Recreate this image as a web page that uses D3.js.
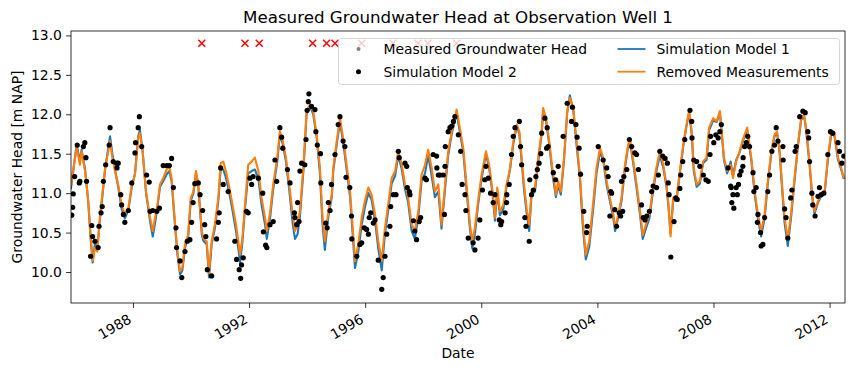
<!DOCTYPE html>
<html>
<head>
<meta charset="utf-8">
<script src="https://cdn.jsdelivr.net/npm/d3@7"></script>
<style>
  html, body { margin: 0; padding: 0; background: #fff; }
  svg { display: block; font-family: "DejaVu Sans", sans-serif; }
</style>
</head>
<body>
<div id="chart"></div>
<script>
// decimal years
const simYears = [
  1985.86, 1986.06, 1986.17, 1986.23, 1986.35, 1986.46, 1986.54, 1986.61, 1986.69, 1986.77, 1986.86, 1986.98,
  1987.04, 1987.15, 1987.21, 1987.29, 1987.38, 1987.49, 1987.61, 1987.72, 1987.84, 1987.96,
  1988.07, 1988.18, 1988.24, 1988.33, 1988.45, 1988.59, 1988.68, 1988.76, 1988.84, 1988.93,
  1989.04, 1989.16, 1989.25, 1989.33, 1989.45, 1989.53, 1989.62, 1989.70, 1989.79, 1989.90, 1989.99,
  1990.08, 1990.17, 1990.25, 1990.37, 1990.42, 1990.54, 1990.62, 1990.71, 1990.82, 1990.94,
  1991.02, 1991.11, 1991.20, 1991.32, 1991.43, 1991.55, 1991.63, 1991.69, 1991.77, 1991.86, 1991.97,
  1992.09, 1992.20, 1992.32, 1992.43, 1992.55, 1992.61, 1992.72, 1992.83, 1992.97,
  1993.06, 1993.16, 1993.27, 1993.38, 1993.50, 1993.58, 1993.67, 1993.75, 1993.87, 1993.98,
  1994.10, 1994.21, 1994.33, 1994.44, 1994.53, 1994.61, 1994.73, 1994.85, 1994.90,
  1995.02, 1995.13, 1995.24, 1995.36, 1995.48, 1995.57, 1995.65, 1995.76, 1995.88, 1995.99,
  1996.11, 1996.22, 1996.34, 1996.45, 1996.57, 1996.68, 1996.79, 1996.91,
  1997.03, 1997.14, 1997.26, 1997.37, 1997.48, 1997.60, 1997.71, 1997.83, 1997.94,
  1998.06, 1998.17, 1998.29, 1998.40, 1998.52, 1998.63, 1998.75, 1998.86, 1998.98,
  1999.09, 1999.15, 1999.26, 1999.38, 1999.49, 1999.61, 1999.69, 1999.78, 1999.89,
  2000.01, 2000.16, 2000.27, 2000.39, 2000.47, 2000.55, 2000.64, 2000.76, 2000.87, 2000.99,
  2001.10, 2001.22, 2001.31, 2001.39, 2001.47, 2001.56, 2001.65, 2001.73, 2001.85, 2001.96,
  2002.08, 2002.13, 2002.23, 2002.34, 2002.46, 2002.57, 2002.65, 2002.74, 2002.85, 2002.96,
  2003.05, 2003.17, 2003.28, 2003.40, 2003.49, 2003.60, 2003.72, 2003.86, 2003.97,
  2004.09, 2004.20, 2004.32, 2004.43, 2004.55, 2004.61, 2004.72, 2004.83, 2004.95,
  2005.06, 2005.12, 2005.24, 2005.35, 2005.47, 2005.56, 2005.67, 2005.79, 2005.90,
  2006.01, 2006.15, 2006.27, 2006.38, 2006.45, 2006.52, 2006.61, 2006.73, 2006.84, 2006.96,
  2007.07, 2007.16, 2007.25, 2007.32, 2007.42, 2007.53, 2007.64, 2007.76, 2007.85, 2007.99,
  2008.11, 2008.22, 2008.27, 2008.36, 2008.47, 2008.59, 2008.67, 2008.78, 2008.90,
  2009.01, 2009.16, 2009.30, 2009.42, 2009.53, 2009.64, 2009.76, 2009.87, 2009.99,
  2010.10, 2010.19, 2010.28, 2010.37, 2010.45, 2010.56, 2010.68, 2010.79, 2010.91,
  2011.02, 2011.12, 2011.19, 2011.31, 2011.40, 2011.48, 2011.60, 2011.71, 2011.83, 2011.94,
  2012.06, 2012.17, 2012.29, 2012.40, 2012.49
];

// "Removed Measurements" (orange)
const removedVals = [
  11.10, 11.58, 11.36, 11.53, 11.28, 10.90, 10.47, 10.14, 10.31, 10.26, 10.69, 11.11,
  11.32, 11.53, 11.66, 11.45, 11.28, 11.11, 10.85, 10.73, 10.81, 11.11,
  11.23, 11.70, 11.76, 11.53, 11.02, 10.69, 10.52, 10.69, 10.85, 11.11,
  11.19, 11.30, 11.34, 11.19, 10.60, 10.26, 10.01, 10.05, 10.35, 10.47, 10.94,
  11.02, 11.28, 11.11, 10.52, 10.43, 10.39, 9.99, 10.39, 10.60, 10.94,
  11.38, 11.40, 11.28, 11.07, 10.85, 10.60, 10.39, 10.22, 10.43, 10.85, 11.36,
  11.40, 11.45, 11.28, 10.94, 10.69, 10.52, 10.75, 11.11, 11.45,
  11.78, 11.66, 11.45, 11.11, 10.73, 10.52, 10.60, 10.77, 11.32, 12.04,
  12.12, 12.04, 11.74, 11.32, 10.69, 10.39, 10.77, 10.98, 11.32,
  11.66, 11.95, 11.70, 11.36, 11.02, 10.56, 10.14, 10.35, 10.69, 10.90,
  11.07, 10.98, 10.73, 10.39, 10.14, 10.56, 10.85, 11.19,
  11.28, 11.53, 11.36, 11.11, 10.94, 10.60, 10.52, 10.77, 11.23,
  11.36, 11.55, 11.32, 11.02, 11.11, 10.60, 11.11, 11.53, 11.78,
  11.95, 12.06, 11.83, 11.57, 11.11, 10.60, 10.39, 10.56, 10.90,
  11.23, 11.53, 11.36, 11.02, 10.69, 11.07, 10.77, 10.85, 11.11, 11.32,
  11.66, 11.87, 11.78, 11.45, 11.11, 10.81, 10.60, 11.02, 11.07, 11.45,
  11.78, 12.08, 11.95, 11.66, 11.28, 10.98, 11.15, 11.02, 11.45, 12.04,
  12.21, 12.08, 11.66, 11.23, 10.69, 10.22, 10.39, 10.90, 11.32,
  11.57, 11.45, 11.15, 10.94, 10.73, 10.56, 10.73, 10.94, 11.36,
  11.62, 11.68, 11.40, 11.11, 10.77, 10.47, 10.60, 10.73, 11.02,
  11.28, 11.53, 11.36, 11.11, 10.85, 10.45, 10.94, 10.94, 11.28, 11.62,
  11.87, 12.04, 11.78, 11.32, 11.11, 11.15, 11.40, 11.45, 11.83, 11.95,
  11.91, 12.04, 11.83, 11.45, 11.28, 11.36, 11.19, 11.40, 11.53,
  11.68, 11.83, 11.45, 11.02, 10.73, 10.52, 10.73, 11.15, 11.53,
  11.74, 11.78, 11.53, 11.07, 10.69, 10.41, 10.77, 11.19, 11.62,
  11.95, 11.99, 11.83, 11.40, 10.98, 10.77, 10.90, 10.98, 11.02, 11.45,
  11.78, 11.74, 11.45, 11.32, 11.19
];

// "Simulation Model 1" (blue)
const model1Vals = [
  11.05, 11.62, 11.40, 11.55, 11.30, 10.88, 10.42, 10.12, 10.36, 10.30, 10.66, 11.08,
  11.30, 11.58, 11.72, 11.50, 11.30, 11.08, 10.80, 10.68, 10.78, 11.08,
  11.25, 11.72, 11.80, 11.55, 11.00, 10.64, 10.45, 10.62, 10.82, 11.08,
  11.15, 11.24, 11.28, 11.15, 10.58, 10.22, 9.97, 10.02, 10.30, 10.45, 10.90,
  11.00, 11.25, 11.08, 10.48, 10.40, 10.35, 9.93, 10.35, 10.55, 10.90,
  11.30, 11.30, 11.20, 11.00, 10.78, 10.52, 10.30, 10.12, 10.38, 10.80, 11.25,
  11.28, 11.30, 11.18, 10.85, 10.60, 10.42, 10.68, 11.05, 11.40,
  11.75, 11.62, 11.40, 11.05, 10.62, 10.42, 10.48, 10.70, 11.28, 12.00,
  12.10, 12.00, 11.70, 11.25, 10.60, 10.28, 10.70, 10.95, 11.28,
  11.62, 11.90, 11.65, 11.30, 10.95, 10.48, 10.05, 10.25, 10.60, 10.82,
  11.00, 10.92, 10.65, 10.30, 10.02, 10.48, 10.78, 11.12,
  11.22, 11.48, 11.30, 11.05, 10.88, 10.52, 10.42, 10.70, 11.15,
  11.25, 11.48, 11.22, 10.95, 11.02, 10.55, 11.05, 11.48, 11.75,
  11.92, 12.02, 11.78, 11.52, 11.05, 10.55, 10.30, 10.48, 10.85,
  11.18, 11.50, 11.32, 10.98, 10.65, 11.02, 10.72, 10.80, 11.08, 11.30,
  11.62, 11.85, 11.75, 11.40, 11.05, 10.75, 10.52, 10.98, 11.02, 11.40,
  11.75, 12.05, 11.92, 11.62, 11.22, 10.95, 11.10, 10.98, 11.42, 12.02,
  12.24, 12.05, 11.62, 11.18, 10.62, 10.16, 10.32, 10.82, 11.25,
  11.52, 11.42, 11.10, 10.90, 10.68, 10.52, 10.70, 10.90, 11.32,
  11.60, 11.66, 11.36, 11.06, 10.72, 10.42, 10.55, 10.68, 10.98,
  11.24, 11.48, 11.32, 11.08, 10.82, 10.50, 10.90, 10.92, 11.25, 11.60,
  11.85, 12.02, 11.75, 11.28, 11.08, 11.12, 11.38, 11.42, 11.80, 11.92,
  11.90, 12.02, 11.82, 11.42, 11.25, 11.40, 11.22, 11.42, 11.52,
  11.66, 11.80, 11.42, 10.98, 10.68, 10.45, 10.68, 11.12, 11.50,
  11.72, 11.76, 11.50, 11.02, 10.62, 10.33, 10.72, 11.15, 11.60,
  11.93, 11.98, 11.80, 11.36, 10.95, 10.74, 10.88, 10.96, 11.00, 11.42,
  11.76, 11.72, 11.42, 11.30, 11.18
];

// "Simulation Model 2" (black dots)
const model2Years = [
  1985.92, 1985.89, 1985.94, 1985.99, 1986.08, 1986.15, 1986.17, 1986.29, 1986.34, 1986.38, 1986.40,
  1986.58, 1986.61, 1986.54, 1986.69, 1986.80, 1986.83, 1986.90, 1986.94, 1986.98,
  1987.06, 1987.21, 1987.18, 1987.32, 1987.44, 1987.49, 1987.45, 1987.58, 1987.61, 1987.67, 1987.72, 1987.84, 1987.96,
  1988.07, 1988.09, 1988.18, 1988.22, 1988.30, 1988.47, 1988.56, 1988.59, 1988.68, 1988.82, 1988.91,
  1989.04, 1989.16, 1989.25, 1989.33, 1989.39, 1989.48, 1989.50, 1989.62, 1989.68, 1989.79, 1989.87, 1989.96,
  1990.02, 1990.07, 1990.13, 1990.25, 1990.31, 1990.40, 1990.47, 1990.51, 1990.56, 1990.71, 1990.88, 1990.94, 1990.97,
  1991.02, 1991.11, 1991.28, 1991.51, 1991.57, 1991.66, 1991.71, 1991.80, 1991.74, 1991.91, 1991.97,
  1992.03, 1992.09, 1992.14, 1992.32, 1992.47, 1992.49, 1992.57, 1992.61, 1992.72, 1992.83, 1992.89, 1992.95,
  1993.06, 1993.12, 1993.16, 1993.32, 1993.41, 1993.56, 1993.58, 1993.64, 1993.72, 1993.67, 1993.75, 1993.81, 1993.92, 1993.96,
  1994.00, 1994.06, 1994.04, 1994.15, 1994.27, 1994.30, 1994.35, 1994.46, 1994.47, 1994.64, 1994.69, 1994.73, 1994.79, 1994.84, 1994.96,
  1995.07, 1995.13, 1995.24, 1995.30, 1995.34, 1995.47, 1995.53, 1995.54, 1995.71, 1995.82, 1995.88, 1995.97,
  1996.05, 1996.11, 1996.14, 1996.19, 1996.28, 1996.34, 1996.45, 1996.62, 1996.57, 1996.68, 1996.74, 1996.85, 1996.88, 1996.97,
  1997.06, 1997.14, 1997.17, 1997.37, 1997.43, 1997.45, 1997.52, 1997.54, 1997.66, 1997.71, 1997.77, 1997.86, 1997.91,
  1998.06, 1998.11, 1998.34, 1998.46, 1998.47, 1998.52, 1998.58, 1998.69, 1998.73, 1998.75, 1998.76, 1998.86, 1998.92, 1998.98,
  1999.04, 1999.09, 1999.21, 1999.29, 1999.34, 1999.44, 1999.47, 1999.55, 1999.72, 1999.78, 1999.89, 1999.95,
  2000.04, 2000.12, 2000.16, 2000.24, 2000.32, 2000.41, 2000.47, 2000.62, 2000.67, 2000.70, 2000.82, 2000.87, 2000.88, 2000.96,
  2001.04, 2001.10, 2001.16, 2001.31, 2001.35, 2001.39, 2001.50, 2001.54, 2001.65, 2001.67, 2001.73, 2001.79, 2001.88, 2001.93, 2001.99,
  2002.05, 2002.08, 2002.19, 2002.27, 2002.25, 2002.30, 2002.48, 2002.56, 2002.65, 2002.82, 2002.96,
  2003.11, 2003.14, 2003.26, 2003.30, 2003.37, 2003.42, 2003.53, 2003.65, 2003.63,
  2004.03, 2004.20, 2004.32, 2004.37, 2004.46, 2004.49, 2004.43, 2004.60, 2004.66, 2004.75, 2004.80, 2004.87, 2004.83, 2004.91,
  2005.01, 2005.10, 2005.18, 2005.29, 2005.35, 2005.41, 2005.52, 2005.58, 2005.64, 2005.70, 2005.79, 2005.87, 2005.92,
  2006.04, 2006.10, 2006.15, 2006.25, 2006.33, 2006.41, 2006.44, 2006.47, 2006.53, 2006.64, 2006.70, 2006.75, 2006.84, 2006.87, 2006.94,
  2007.01, 2007.19, 2007.25, 2007.26, 2007.32, 2007.42, 2007.53, 2007.65, 2007.74, 2007.82, 2007.88, 2007.90,
  2008.01, 2008.08, 2008.16, 2008.22, 2008.27, 2008.50, 2008.59, 2008.61, 2008.63, 2008.67, 2008.70, 2008.78, 2008.82, 2008.86, 2008.90, 2008.95,
  2009.01, 2009.02, 2009.07, 2009.13, 2009.18, 2009.24, 2009.36, 2009.39, 2009.47, 2009.51, 2009.53, 2009.62, 2009.64, 2009.70, 2009.76, 2009.87, 2009.93,
  2010.01, 2010.10, 2010.16, 2010.22, 2010.39, 2010.40, 2010.45, 2010.50, 2010.56, 2010.66, 2010.70, 2010.81, 2010.85, 2010.97,
  2011.08, 2011.16, 2011.25, 2011.28, 2011.31, 2011.39, 2011.42, 2011.50, 2011.60, 2011.65, 2011.71, 2011.80, 2011.94,
  2012.03, 2012.11, 2012.29, 2012.34, 2012.42, 2012.49
];
const model2Vals = [
  10.82, 10.72, 10.99, 11.21, 11.61, 11.13, 11.15, 11.59, 11.64, 11.45, 11.15,
  10.59, 10.45, 10.20, 10.39, 10.31, 10.58, 10.75, 10.83, 11.15,
  11.36, 11.83, 11.61, 11.40, 11.38, 11.38, 11.32, 10.98, 10.85, 10.73, 10.63, 10.78, 11.13,
  11.51, 11.64, 11.83, 11.97, 11.59, 11.23, 11.14, 10.77, 10.78, 10.77, 10.81,
  11.35, 11.35, 11.35, 11.44, 11.07, 10.56, 10.31, 10.14, 9.93, 10.26, 10.39, 10.41,
  10.63, 10.88, 11.12, 11.13, 10.98, 10.78, 10.60, 10.45, 10.03, 9.95, 10.42, 10.63, 10.75,
  11.32, 11.11, 11.02, 10.39, 10.16, 10.03, 9.92, 10.18, 10.09, 10.77, 10.75,
  11.19, 11.11, 11.21, 11.19, 11.00, 10.51, 10.34, 10.31, 10.60, 10.64, 11.42, 11.15,
  11.83, 11.71, 11.57, 11.30, 11.13, 10.75, 10.69, 10.60, 10.64, 10.88, 11.28, 11.38, 11.36, 11.68,
  12.05, 12.26, 12.16, 12.10, 12.06, 11.78, 11.61, 11.50, 11.13, 10.62, 10.56, 10.88, 10.78, 11.11, 11.49,
  11.87, 11.97, 11.66, 11.59, 11.20, 11.07, 10.71, 10.42, 10.20, 10.35, 10.37, 10.56,
  10.54, 10.48, 10.69, 10.75, 10.62, 10.66, 10.15, 9.93, 9.78, 10.20, 10.48, 10.58, 10.83, 10.98,
  10.98, 11.53, 11.45, 11.38, 11.34, 11.07, 11.02, 10.98, 10.65, 10.52, 10.41, 10.64, 10.69,
  11.19, 11.17, 11.49, 11.47, 11.32, 11.23, 11.23, 11.23, 10.73, 11.34, 11.59, 11.78, 11.83, 11.85,
  11.91, 11.97, 11.74, 11.53, 11.11, 10.98, 10.78, 10.43, 10.37, 10.28, 10.43, 10.66,
  11.04, 11.17, 11.34, 11.19, 11.00, 10.88, 10.98, 10.66, 10.60, 10.64, 10.75, 10.88, 10.98, 11.11,
  11.49, 11.72, 11.83, 11.91, 11.59, 11.36, 10.69, 10.58, 10.39, 11.17, 10.98, 11.04, 11.21, 11.30, 11.38,
  11.50, 11.76, 11.95, 11.83, 11.57, 11.59, 11.26, 11.17, 11.34, 11.72, 12.14,
  11.91, 12.09, 11.87, 11.71, 11.57, 11.24, 10.77, 10.58, 10.50,
  11.59, 11.42, 11.32, 11.21, 11.02, 11.00, 10.71, 10.79, 10.58, 10.75, 10.71, 10.77, 11.15, 11.21,
  11.30, 11.68, 11.59, 11.51, 11.49, 11.30, 10.85, 10.69, 10.66, 10.71, 10.77, 11.02, 11.09,
  11.07, 11.23, 11.53, 11.47, 11.44, 11.38, 11.13, 10.98, 10.19, 10.64, 10.94, 10.92, 11.06, 11.23, 11.40,
  11.68, 12.05, 11.91, 11.70, 11.42, 11.40, 11.34, 11.23, 11.17, 11.15, 11.49, 11.72,
  11.64, 11.74, 11.70, 11.78, 11.87, 11.32, 11.09, 11.07, 10.88, 10.98, 10.81, 11.07, 10.98, 11.11, 11.23, 11.28,
  11.34, 11.45, 11.59, 11.64, 11.72, 11.59, 11.26, 11.02, 11.07, 10.63, 10.73, 10.50, 10.33, 10.35, 10.69, 11.02, 11.23,
  11.53, 11.61, 11.83, 11.66, 11.59, 11.42, 10.80, 10.69, 10.43, 10.94, 11.04, 11.53, 11.59, 11.97,
  12.04, 12.02, 11.78, 11.70, 11.40, 11.00, 10.85, 10.71, 10.96, 11.07, 10.98, 11.00, 11.49,
  11.78, 11.76, 11.64, 11.53, 11.38, 11.47
];

// red crosses along the top
const crossYears = [1990.37, 1991.86, 1992.35, 1994.19, 1994.67, 1994.96, 1995.88, 1996.96, 1997.82, 1998.16, 1999.15];
const crossVal = 12.9;

const yTicks = [10.0, 10.5, 11.0, 11.5, 12.0, 12.5, 13.0];
const xTickYears = [1988, 1992, 1996, 2000, 2004, 2008, 2012];

const W = 855, H = 372;
const margin = { top: 31, right: 10, bottom: 69, left: 71 };
const innerW = W - margin.left - margin.right;
const innerH = H - margin.top - margin.bottom;

function dec(y) {
  const yr = Math.floor(y);
  const a = new Date(yr, 0, 1), b = new Date(yr + 1, 0, 1);
  return new Date(+a + (y - yr) * (b - a));
}

const svg = d3.select('#chart').append('svg')
  .attr('width', W).attr('height', H);

const g = svg.append('g').attr('transform', `translate(${margin.left},${margin.top})`);

const x = d3.scaleTime().domain([dec(1985.864), dec(2012.53)]).range([0, innerW]);
const y = d3.scaleLinear().domain([9.607, 13.056]).range([innerH, 0]);

svg.append('defs').append('clipPath').attr('id', 'clip')
  .append('rect').attr('width', innerW).attr('height', innerH);

const plot = g.append('g').attr('clip-path', 'url(#clip)');

const line = (vals) => d3.line()
  .x((_, i) => x(dec(simYears[i])))
  .y((d) => y(d))(vals);

plot.append('path').attr('d', line(model1Vals))
  .attr('fill', 'none').attr('stroke', '#1f77b4').attr('stroke-width', 2.1).attr('stroke-linejoin', 'round');
plot.append('path').attr('d', line(removedVals))
  .attr('fill', 'none').attr('stroke', '#ff7f0e').attr('stroke-width', 2.1).attr('stroke-linejoin', 'round');

plot.selectAll('circle.m2').data(model2Vals).join('circle')
  .attr('class', 'm2')
  .attr('cx', (_, i) => x(dec(model2Years[i])))
  .attr('cy', (d) => y(d))
  .attr('r', 2.6).attr('fill', '#000');

const cs = 3.5;
plot.selectAll('path.cross').data(crossYears).join('path')
  .attr('class', 'cross')
  .attr('d', (d) => {
    const cx = x(dec(d)), cy = y(crossVal);
    return `M${cx - cs},${cy - cs}L${cx + cs},${cy + cs}M${cx - cs},${cy + cs}L${cx + cs},${cy - cs}`;
  })
  .attr('stroke', '#ff0000').attr('stroke-width', 1.5).attr('fill', 'none');

// axes
const xAxisG = g.append('g').attr('transform', `translate(0,${innerH})`)
  .call(d3.axisBottom(x).tickValues(xTickYears.map((v) => new Date(v, 0, 1)))
    .tickFormat(d3.timeFormat('%Y')).tickSize(4.9).tickPadding(4.9));
xAxisG.selectAll('text')
  .attr('text-anchor', 'end')
  .attr('dy', null).attr('y', null)
  .attr('transform', 'translate(-1,19) rotate(-30)');

const yAxisG = g.append('g')
  .call(d3.axisLeft(y).tickValues(yTicks).tickFormat(d3.format('.1f')).tickSize(4.9).tickPadding(4.2));

[xAxisG, yAxisG].forEach((ax) => {
  ax.select('.domain').remove();
  ax.selectAll('line').attr('stroke', '#000').attr('stroke-width', 0.8);
  ax.selectAll('text').attr('fill', '#000').attr('font-size', 13.9)
    .attr('font-family', '"DejaVu Sans", sans-serif');
});

g.append('rect').attr('width', innerW).attr('height', innerH)
  .attr('fill', 'none').attr('stroke', '#000').attr('stroke-width', 0.8);

// labels
svg.append('text').attr('x', margin.left + innerW / 2).attr('y', 22.7)
  .attr('text-anchor', 'middle').attr('font-size', 16.7).text('Measured Groundwater Head at Observation Well 1');
svg.append('text').attr('x', margin.left + innerW / 2).attr('y', 358)
  .attr('text-anchor', 'middle').attr('font-size', 13.9).text('Date');
svg.append('text').attr('transform', `translate(22,${margin.top + innerH / 2}) rotate(-90)`)
  .attr('text-anchor', 'middle').attr('font-size', 13.9).text('Groundwater Head [m NAP]');

// legend
const leg = svg.append('g').attr('transform', 'translate(338.5,38.5)');
leg.append('rect').attr('width', 501).attr('height', 46).attr('rx', 2.8)
  .attr('fill', '#fff').attr('fill-opacity', 0.8)
  .attr('stroke', '#cccccc').attr('stroke-opacity', 0.8);
const rows = [10.5, 33.2];
const legItems = [
  { label: 'Measured Groundwater Head', type: 'dot', color: '#808080', r: 2, col: 0, row: 0 },
  { label: 'Simulation Model 2', type: 'dot', color: '#000', r: 2.5, col: 0, row: 1 },
  { label: 'Simulation Model 1', type: 'line', color: '#1f77b4', col: 1, row: 0 },
  { label: 'Removed Measurements', type: 'line', color: '#ff7f0e', col: 1, row: 1 }
];
const colX = [6, 279];
legItems.forEach((it) => {
  const x0 = colX[it.col], yy = rows[it.row];
  if (it.type === 'dot') {
    leg.append('circle').attr('cx', x0 + 14).attr('cy', yy).attr('r', it.r).attr('fill', it.color);
  } else {
    leg.append('line').attr('x1', x0).attr('x2', x0 + 28).attr('y1', yy).attr('y2', yy)
      .attr('stroke', it.color).attr('stroke-width', 1.8);
  }
  leg.append('text').attr('x', x0 + 39).attr('y', yy).attr('dy', '0.36em')
    .attr('font-size', 13.9).text(it.label);
});
</script>
</body>
</html>
